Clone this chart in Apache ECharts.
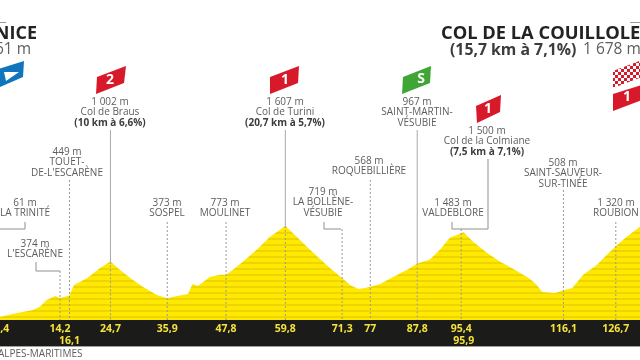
<!DOCTYPE html>
<html>
<head>
<meta charset="utf-8">
<style>html,body{margin:0;padding:0;background:#fff}#c{width:640px;height:360px}</style>
<script src="https://cdn.jsdelivr.net/npm/echarts@6/dist/echarts.min.js"></script>
</head>
<body>
<div id="c"></div>
<script>
// ---- data ----
const profileKm = [0, 2.4, 5.5, 8.7, 10.1, 11.5, 13.2, 14.2, 16.1, 17, 18.2, 19.7, 22.3, 24.4, 26.3, 28.4, 31, 33.8, 35.9, 37.9, 40.1, 41, 42.1, 44.5, 46.6, 47.8, 49.2, 51.2, 54, 56.7, 59.8, 62.1, 64.8, 68.8, 71.3, 72.9, 74.6, 76, 77, 79, 81.6, 84.5, 86.5, 89, 91.1, 93.1, 95.4, 95.9, 97.8, 100.6, 103.3, 105.9, 109.3, 110.7, 111.8, 114.4, 116.1, 117.9, 120.1, 122.9, 124.9, 126.7, 128.9, 131.6];
const profileElev = [50, 61, 120, 170, 225, 340, 410, 374, 420, 600, 650, 720, 890, 1002, 857, 720, 566, 429, 373, 410, 446, 617, 583, 737, 772, 773, 857, 995, 1200, 1423, 1607, 1423, 1200, 890, 719, 600, 532, 549, 568, 617, 737, 857, 967, 1029, 1200, 1406, 1483, 1500, 1338, 1149, 995, 875, 703, 600, 480, 463, 508, 549, 772, 943, 1115, 1260, 1423, 1595];
const axisKm = [2.4, 14.2, 24.4, 35.9, 47.8, 59.8, 71.3, 77, 86.5, 95.4, 116.1, 126.7];
const axisKmLabels = ['2,4', '14,2', '24,7', '35,9', '47,8', '59,8', '71,3', '77', '87,8', '95,4', '116,1', '126,7'];
const axis2Km = [16.1, 95.9];
const axis2KmLabels = ['16,1', '95,9'];
const stopKm = [24.4, 59.8, 86.5, 95.9, 16.1, 2.4, 14.2, 35.9, 47.8, 71.3, 77, 95.4, 116.1, 126.7];
const stopElev = [1002, 1607, 967, 1500, 449, 61, 374, 373, 773, 719, 568, 1483, 508, 1320];
const stopTexts = [
  ['1 002 m', 'Col de Braus', '(10 km à 6,6%)'],
  ['1 607 m', 'Col de Turini', '(20,7 km à 5,7%)'],
  ['967 m', 'SAINT-MARTIN-', 'VÉSUBIE'],
  ['1 500 m', 'Col de la Colmiane', '(7,5 km à 7,1%)'],
  ['449 m', 'TOUET-', "DE-L'ESCARÈNE"],
  ['61 m', 'LA TRINITÉ'],
  ['374 m', "L'ESCARÈNE"],
  ['373 m', 'SOSPEL'],
  ['773 m', 'MOULINET'],
  ['719 m', 'LA BOLLÈNE-', 'VÉSUBIE'],
  ['568 m', 'ROQUEBILLIÈRE'],
  ['1 483 m', 'VALDEBLORE'],
  ['508 m', 'SAINT-SAUVEUR-', 'SUR-TINÉE'],
  ['1 320 m', 'ROUBION']
];

// ---- layout and style ----
const FONT = '"Open Sans"';
const GREY = '#5d5d5f';
const RULE = '#a9a9a9';
const BAND_TOP = 320, BAND_BOTTOM = 346;
const KM_MIN = 2.04, KM_MAX = 131.6;
// y of first text line; x is the centre; bold = last line bold; top = start of the stem
const stopLayout = [
  { x: 110, y: 102, bold: true, top: 130, solid: true },
  { x: 285, y: 102, bold: true, top: 130, solid: true },
  { x: 417, y: 102, top: 130, solid: true },
  { x: 487, y: 131, bold: true, leader: [[488, 159], [488, 229], [452, 229], [452, 222]], noStem: true },
  { x: 67, y: 152, top: 180 },
  { x: 25, y: 203, leader: [[25, 222], [25, 229], [-5, 229]], noStem: true },
  { x: 35, y: 244, leader: [[36, 262], [36, 271], [60, 271]], top: 271 },
  { x: 167, y: 203, top: 222 },
  { x: 225, y: 203, top: 222 },
  { x: 323, y: 192, leader: [[324, 222], [324, 229], [341, 229]], top: 229 },
  { x: 369, y: 161, top: 180 },
  { x: 453, y: 203, top: 229 },
  { x: 563, y: 163, top: 190 },
  { x: 616, y: 203, top: 222 }
];

function stripes() {
  const c = document.createElement('canvas');
  c.width = 4; c.height = 6;
  const g = c.getContext('2d');
  g.fillStyle = '#ffe900'; g.fillRect(0, 0, 4, 6);
  g.fillStyle = '#efd500'; g.fillRect(0, 4, 4, 2);
  return c;
}
function checks() {
  const c = document.createElement('canvas');
  c.width = 6; c.height = 6;
  const g = c.getContext('2d');
  g.fillStyle = '#fff'; g.fillRect(0, 0, 6, 6);
  g.fillStyle = '#d8192a'; g.fillRect(0, 0, 3, 3); g.fillRect(3, 3, 3, 3);
  return c;
}
function flag(pts, fill, label, cx, cy, size) {
  const out = [{ type: 'polygon', shape: { points: pts }, style: { fill }, z: 5 }];
  if (label) out.push({
    type: 'text', x: cx, y: cy, z: 6, rotation: 0,
    style: { text: label, fill: '#fff', font: 'bold ' + (size || 14) + 'px ' + FONT, textAlign: 'center', textVerticalAlign: 'middle' }
  });
  return out;
}
function title(text, x, y, size, bold, fill, align) {
  return {
    type: 'text', x, y, z: 6,
    style: { text, fill, font: (bold ? 'bold ' : '') + size + 'px ' + FONT, textAlign: align, textVerticalAlign: 'middle' }
  };
}

const chart = echarts.init(document.getElementById('c'), null, { renderer: 'canvas' });
const xLabelBase = {
  color: '#f6e23c', fontFamily: FONT, fontWeight: 'bold', fontSize: 10.5, hideOverlap: false, showMinLabel: true, showMaxLabel: true
};
chart.setOption({
  animation: false,
  backgroundColor: '#fff',
  grid: { left: 0, right: 0, top: 203, height: 117, outerBoundsMode: 'none', containLabel: false },
  xAxis: [
    {
      type: 'value', min: KM_MIN, max: KM_MAX, splitLine: { show: false },
      axisLine: { show: false }, axisTick: { show: false },
      axisLabel: Object.assign({}, xLabelBase, {
        margin: 4, customValues: axisKm,
        formatter: v => axisKmLabels[axisKm.indexOf(v)]
      })
    },
    {
      type: 'value', min: KM_MIN, max: KM_MAX, position: 'bottom', splitLine: { show: false },
      axisLine: { show: false }, axisTick: { show: false },
      axisLabel: Object.assign({}, xLabelBase, {
        margin: 16, customValues: axis2Km,
        formatter: v => axis2KmLabels[axis2Km.indexOf(v)]
      })
    }
  ],
  yAxis: { type: 'value', min: 0, max: 2000, show: false, splitLine: { show: false } },
  graphic: [
    { type: 'rect', shape: { x: 0, y: BAND_TOP, width: 640, height: BAND_BOTTOM - BAND_TOP }, style: { fill: '#1b1b19' }, z: -1 },
    { type: 'rect', shape: { x: 0, y: BAND_BOTTOM, width: 640, height: 1 }, style: { fill: '#a0a0a0' }, z: -1 },
    title('ALPES-MARITIMES', -2, 354, 10, false, GREY, 'left'),
    { type: 'rect', shape: { x: 0, y: 22, width: 6, height: 1 }, style: { fill: '#999' } },
    { type: 'rect', shape: { x: 630, y: 22, width: 10, height: 1 }, style: { fill: '#999' } },
    title('NICE', 37, 34, 18, true, '#222', 'right'),
    title('61 m', 31, 50, 15.5, false, GREY, 'right'),
    title('COL DE LA COUILLOLE', 441, 34, 18.3, true, '#222', 'left'),
    title('(15,7 km à 7,1%)', 450, 50, 15.8, true, '#3c3c3e', 'left'),
    title('1 678 m', 583, 50, 15.5, false, GREY, 'left'),
    ...flag([[-2, 69], [24, 61], [23, 77], [-2, 88]], '#0f75bc'),
    { type: 'polygon', shape: { points: [[4, 72], [19, 72], [6, 81]] }, style: { fill: '#fff' }, z: 6 },
    ...flag([[97, 77], [126, 66], [124, 83], [96, 94]], '#d8192a', '2', 110, 80),
    ...flag([[270, 77], [299, 66], [298, 83], [270, 94]], '#d8192a', '1', 285, 80),
    ...flag([[403, 77], [431, 66], [430, 83], [402, 94]], '#3fa535', 'S', 421, 79),
    ...flag([[476, 106], [501, 95], [500, 112], [477, 123]], '#d8192a', '1', 488, 109),
    { type: 'polygon', shape: { points: [[613, 71], [642, 60], [642, 77], [613, 88]] }, style: { fill: { image: checks(), repeat: 'repeat' } }, z: 5 },
    ...flag([[613, 94], [642, 85], [642, 100], [613, 111]], '#d8192a', '1', 627, 97)
  ],
  series: [
    {
      type: 'line', data: profileKm.map((k, i) => [k, profileElev[i]]),
      showSymbol: false, smooth: false, lineStyle: { width: 0 }, z: 2,
      areaStyle: { opacity: 1, color: { image: stripes(), repeat: 'repeat' } }
    },
    {
      type: 'custom', z: 3, clip: false, silent: true,
      data: stopKm.map((k, i) => [k, stopElev[i], i]),
      encode: { x: 0, y: 1 },
      renderItem(params, api) {
        const i = api.value(2);
        const L = stopLayout[i];
        const p = api.coord([api.value(0), api.value(1)]);
        const base = api.coord([api.value(0), 0]);
        const children = [];
        stopTexts[i].forEach((t, n, all) => {
          const bold = L.bold && n === all.length - 1;
          children.push({
            type: 'text',
            style: {
              text: t, x: L.x, y: L.y + n * 10.5, textAlign: 'center', textVerticalAlign: 'middle',
              fill: bold ? '#3c3c3e' : GREY, font: (bold ? 'bold ' : '') + '10px ' + FONT
            }
          });
        });
        const solidRule = { stroke: RULE, lineWidth: 1, fill: null };
        const dash = { stroke: '#9a9a9a', lineWidth: 1, lineDash: [2, 2], fill: null };
        if (L.solid) {
          children.push({ type: 'line', shape: { x1: p[0], y1: L.top, x2: p[0], y2: p[1] }, style: solidRule });
          children.push({ type: 'line', shape: { x1: p[0], y1: p[1], x2: base[0], y2: base[1] }, style: dash });
        } else if (!L.noStem) {
          children.push({ type: 'line', shape: { x1: p[0], y1: L.top, x2: base[0], y2: base[1] }, style: dash });
        }
        if (L.leader) {
          children.push({ type: 'polyline', shape: { points: L.leader }, style: { stroke: '#8f8f8f', lineWidth: 1, fill: null } });
        }
        return { type: 'group', children };
      }
    }
  ]
});
</script>
</body>
</html>
